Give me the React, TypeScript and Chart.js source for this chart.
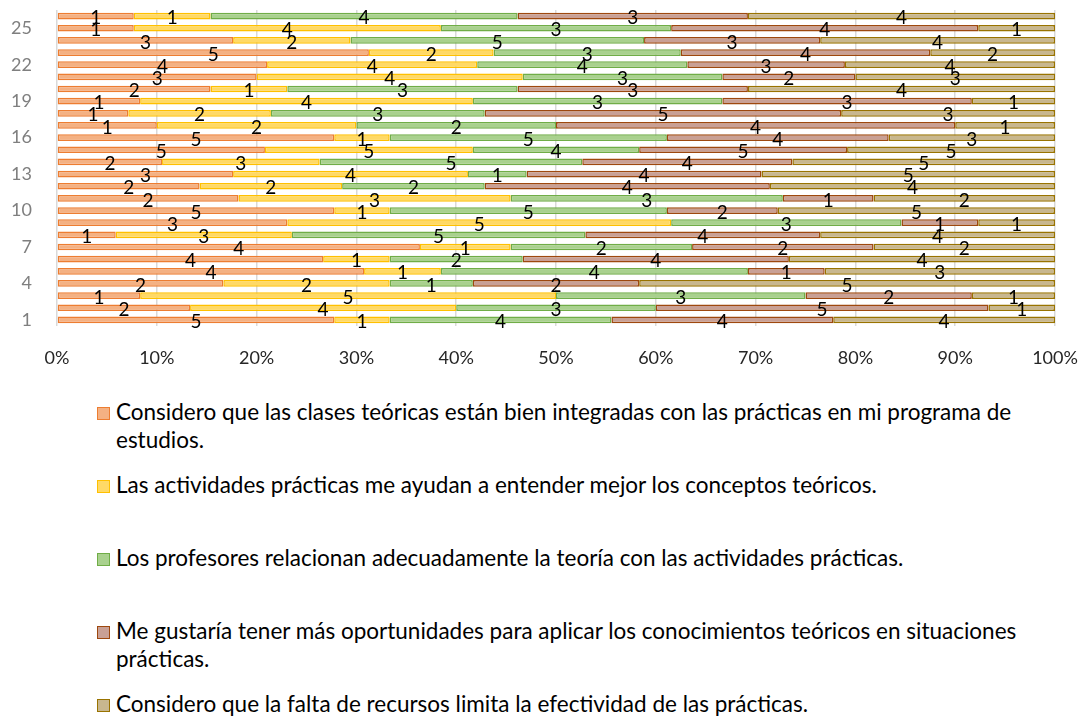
import React, { useEffect, useRef } from 'react';
import { Chart, registerables } from 'chart.js';

Chart.register(...registerables);

const categories = ['1', '2', '3', '4', '5', '6', '7', '8', '9', '10', '11', '12', '13', '14', '15', '16', '17', '18', '19', '20', '21', '22', '23', '24', '25', '26'];

const seriesNames = [
  'Considero que las clases teóricas están bien integradas con las prácticas en mi programa de estudios.',
  'Las actividades prácticas me ayudan a entender mejor los conceptos teóricos.',
  'Los profesores relacionan adecuadamente la teoría con las actividades prácticas.',
  'Me gustaría tener más oportunidades para aplicar los conocimientos teóricos en situaciones prácticas.',
  'Considero que la falta de recursos limita la efectividad de las prácticas.',
];

// legend lines (as wrapped in the reference)
const legendLines = [
  ['Considero que las clases teóricas están bien integradas con las prácticas en mi programa de', 'estudios.'],
  ['Las actividades prácticas me ayudan a entender mejor los conceptos teóricos.'],
  ['Los profesores relacionan adecuadamente la teoría con las actividades prácticas.'],
  ['Me gustaría tener más oportunidades para aplicar los conocimientos teóricos en situaciones', 'prácticas.'],
  ['Considero que la falta de recursos limita la efectividad de las prácticas.'],
];

const serie1 = [5, 2, 1, 2, 4, 4, 4, 1, 3, 5, 2, 2, 3, 2, 5, 5, 1, 1, 1, 2, 3, 4, 5, 3, 1, 1];
const serie2 = [1, 4, 5, 2, 1, 1, 1, 3, 5, 1, 3, 2, 4, 3, 5, 1, 2, 2, 4, 1, 4, 4, 2, 2, 4, 1];
const serie3 = [4, 3, 3, 1, 4, 2, 2, 5, 3, 5, 3, 2, 1, 5, 4, 5, 2, 3, 3, 3, 3, 4, 3, 5, 3, 4];
const serie4 = [4, 5, 2, 2, 1, 4, 2, 4, 1, 2, 1, 4, 4, 4, 5, 4, 4, 5, 3, 3, 2, 3, 4, 3, 4, 3];
const serie5 = [4, 1, 1, 5, 3, 4, 2, 4, 1, 5, 2, 4, 5, 5, 5, 3, 1, 3, 1, 4, 3, 4, 2, 4, 1, 4];

const xTicks = ['0%', '10%', '20%', '30%', '40%', '50%', '60%', '70%', '80%', '90%', '100%'];

const fills = ['#F4B183', '#FFD966', '#A9D18E', '#C9A095', '#C8B78F'];
const borders = ['#ED7D31', '#FFC000', '#70AD47', '#9E480E', '#997300'];

const FONT = 'Lato, "Open Sans", sans-serif';

const CANVAS_H = 380;
const PLOT_BOTTOM = 326;

const labelPlugin = {
  id: 'segLabels',
  afterDatasetsDraw(chart: any) {
    const ctx = chart.ctx;
    ctx.save();
    ctx.font = `19px ${FONT}`;
    ctx.fillStyle = '#000000';
    ctx.textAlign = 'center';
    ctx.textBaseline = 'middle';
    chart.data.datasets.forEach((ds: any, di: number) => {
      const meta = chart.getDatasetMeta(di);
      meta.data.forEach((el: any, i: number) => {
        const p = el.getProps(['x', 'base', 'y'], true);
        const raw = ds.raw[i];
        ctx.fillText(String(raw), (p.x + p.base) / 2, p.y + 2);
      });
    });
    ctx.restore();
  },
};

export default function App() {
  const ref = useRef<HTMLCanvasElement | null>(null);

  useEffect(() => {
    if (!ref.current) return;
    const series = [serie1, serie2, serie3, serie4, serie5];
    const totals = categories.map((_, i) => series.reduce((s, arr) => s + arr[i], 0));
    const chart = new Chart(ref.current, {
      type: 'bar',
      data: {
        labels: categories,
        datasets: series.map((vals, k) => ({
          label: seriesNames[k],
          data: vals.map((v, i) => (v / totals[i]) * 100),
          raw: vals,
          backgroundColor: fills[k],
          borderColor: borders[k],
          borderWidth: 1.5,
          borderSkipped: false,
          barPercentage: 0.55,
          categoryPercentage: 1,
        })) as any,
      },
      options: {
        indexAxis: 'y',
        responsive: false,
        maintainAspectRatio: false,
        animation: false,
        layout: { padding: { left: 0, right: 26, top: 10, bottom: 0 } },
        plugins: { legend: { display: false }, tooltip: { enabled: false } },
        scales: {
          x: {
            stacked: true,
            min: 0,
            max: 100,
            ticks: {
              stepSize: 10,
              callback: (v: any) => xTicks[Math.round(Number(v) / 10)],
              color: '#262626',
              font: { family: FONT, size: 18 },
              padding: 21,
              maxRotation: 0,
            },
            grid: { color: '#D9D9D9', lineWidth: 1.5, drawTicks: false },
            border: { display: false },
            afterFit: (scale: any) => {
              scale.height = CANVAS_H - PLOT_BOTTOM;
              scale.paddingLeft = 0;
              scale.paddingRight = 0;
            },
          },
          y: {
            stacked: true,
            reverse: true,
            ticks: {
              autoSkip: false,
              callback: (_v: any, idx: number) => (idx % 3 === 0 ? categories[idx] : ''),
              color: '#7F7F7F',
              font: { family: FONT, size: 18 },
              padding: 25,
            },
            grid: { display: false, drawTicks: false },
            border: { display: false },
            afterFit: (scale: any) => {
              scale.width = 57;
              scale.paddingTop = 0;
              scale.paddingBottom = 0;
            },
          },
        },
      } as any,
      plugins: [labelPlugin],
    });
    return () => chart.destroy();
  }, []);

  const entryTop = [413, 486, 559, 632, 705];

  return (
    <div style={{ position: 'fixed', left: 0, top: 0, width: 1081, height: 718, background: '#fff', fontFamily: FONT, overflow: 'hidden' }}>
      <canvas ref={ref} width={1081} height={CANVAS_H} style={{ position: 'absolute', left: 0, top: 0, width: 1081, height: CANVAS_H }} />
      {legendLines.map((lines, k) => (
        <div key={k}>
          <div
            style={{
              position: 'absolute',
              left: 97,
              top: entryTop[k] - 6,
              width: 11,
              height: 11,
              background: fills[k],
              border: `1.5px solid ${borders[k]}`,
            }}
          />
          {lines.map((line, j) => (
            <div
              key={j}
              style={{
                position: 'absolute',
                left: 116,
                top: entryTop[k] + j * 28 - 15,
                height: 28,
                lineHeight: '28px',
                fontSize: 22.5,
                color: '#000',
                whiteSpace: 'nowrap',
              }}
            >
              {line}
            </div>
          ))}
        </div>
      ))}
    </div>
  );
}
